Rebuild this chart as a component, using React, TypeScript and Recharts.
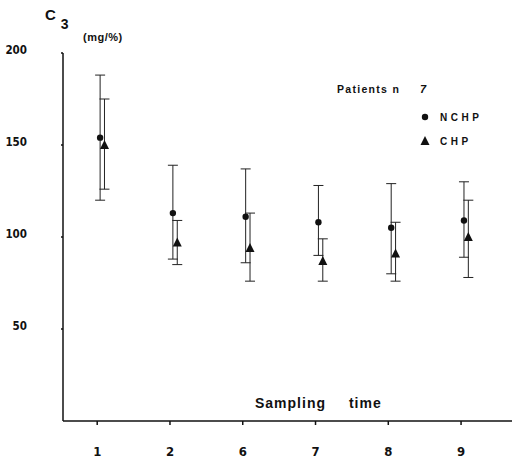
import { ScatterChart, Scatter, XAxis, YAxis, ErrorBar, Legend, Label } from "recharts"

// sampling times on the x axis
const samplingTimes = ["1", "2", "6", "7", "8", "9"]

// C3 (mg/%) - NCHP patients
const nchpMean = [154, 113, 111, 108, 105, 109]
const nchpLow = [120, 88, 86, 90, 80, 89]
const nchpHigh = [188, 139, 137, 128, 129, 130]

// C3 (mg/%) - CHP patients
const chpMean = [150, 97, 94, 87, 91, 100]
const chpLow = [126, 85, 76, 76, 76, 78]
const chpHigh = [175, 109, 113, 99, 108, 120]

const seriesNames = ["NCHP", "CHP"]
const yTicks = [50, 100, 150, 200]
const patientsCount = "7"

const build = (mean: number[], low: number[], high: number[], shift: number) =>
  mean.map((m, i) => ({
    x: i + 1 + shift,
    time: samplingTimes[i],
    y: m,
    err: [m - low[i], high[i] - m],
  }))

const nchpData = build(nchpMean, nchpLow, nchpHigh, 0.04)
const chpData = build(chpMean, chpLow, chpHigh, 0.1)

const INK = "#111"
const tickFont = "'DejaVu Sans', sans-serif"
const textFont = "'Liberation Sans', Arial, sans-serif"

function Dot(props: any) {
  const { cx, cy } = props
  return <circle cx={cx} cy={cy} r={3.2} fill={INK} />
}

function Tri(props: any) {
  const { cx, cy } = props
  const s = 9
  return (
    <polygon
      points={`${cx},${cy - s / 2 - 0.5} ${cx - s / 2},${cy + s / 2 - 0.5} ${cx + s / 2},${cy + s / 2 - 0.5}`}
      fill={INK}
    />
  )
}

function YUnitLabel(props: any) {
  const { viewBox } = props
  const x0 = viewBox.x
  const y0 = viewBox.y
  return (
    <g fontFamily={textFont} fontWeight="bold" fill={INK}>
      <text x={x0 + 45} y={y0 - 33} fontSize={15}>
        C
        <tspan dx={5} dy={9} fontSize={14}>3</tspan>
      </text>
      <text x={x0 + 83} y={y0 - 12} fontSize={11} letterSpacing={0.5}>
        (mg/%)
      </text>
    </g>
  )
}

function XTitle(props: any) {
  const { viewBox } = props
  return (
    <text
      x={viewBox.x + 192}
      y={viewBox.y - 13}
      fontFamily={textFont}
      fontWeight="bold"
      fontSize={14}
      letterSpacing={1}
      wordSpacing={18}
      fill={INK}
    >
      Sampling time
    </text>
  )
}

function LegendBox(props: any) {
  const items = [...(props.payload || [])].sort(
    (a: any, b: any) => seriesNames.indexOf(a.value) - seriesNames.indexOf(b.value)
  )
  return (
    <svg width={190} height={80} style={{ display: "block" }}>
      <g fontFamily={textFont} fontWeight="bold" fill={INK}>
        <text x={12} y={18} fontSize={10.5} letterSpacing={1.3}>
          Patients n
        </text>
        <text x={95} y={18} fontSize={11} fontStyle="italic">
          {patientsCount}
        </text>
        {items.map((p: any, i: number) => {
          const cy = 42 + i * 24
          return (
            <g key={p.value}>
              {p.value === "NCHP" ? <Dot cx={100} cy={cy} /> : <Tri cx={100} cy={cy} />}
              <text x={115} y={cy + 4} fontSize={10} letterSpacing={3.5}>
                {p.value}
              </text>
            </g>
          )
        })}
      </g>
    </svg>
  )
}

export default function App() {
  return (
    <div style={{ position: "absolute", left: 0, top: 0, width: 512, height: 459, background: "#fff" }}>
      <ScatterChart width={512} height={459} margin={{ top: 53, right: 0, bottom: 0, left: 0 }}>
        <XAxis
          type="number"
          dataKey="x"
          domain={[0.53, 6.7]}
          ticks={[1, 2, 3, 4, 5, 6]}
          tickFormatter={(v: number) => samplingTimes[Math.round(v) - 1]}
          allowDataOverflow
          height={38}
          stroke={INK}
          strokeWidth={1.5}
          tickSize={4}
          tickMargin={22}
          tick={{ fill: INK, fontSize: 13, fontWeight: "bold", fontFamily: tickFont, fontStretch: "condensed" }}
        >
          <Label content={<XTitle />} />
        </XAxis>
        <YAxis
          type="number"
          dataKey="y"
          domain={[0, 200]}
          ticks={yTicks}
          width={63}
          stroke={INK}
          strokeWidth={1.5}
          tickSize={2}
          tickMargin={34}
          tick={{ fill: INK, fontSize: 11.5, fontWeight: "bold", fontFamily: tickFont, fontStretch: "condensed", dy: -3 }}
        >
          <Label content={<YUnitLabel />} />
        </YAxis>
        <Legend
          layout="vertical"
          align="center"
          verticalAlign="middle"
          content={<LegendBox />}
          wrapperStyle={{ position: "absolute", left: 325, top: 75, width: 190 }}
        />
        <Scatter name={seriesNames[0]} data={nchpData} shape={<Dot />} isAnimationActive={false}>
          <ErrorBar dataKey="err" direction="y" width={5} stroke="#222" strokeWidth={1} />
        </Scatter>
        <Scatter name={seriesNames[1]} data={chpData} shape={<Tri />} isAnimationActive={false}>
          <ErrorBar dataKey="err" direction="y" width={5} stroke="#222" strokeWidth={1} />
        </Scatter>
      </ScatterChart>
    </div>
  )
}
